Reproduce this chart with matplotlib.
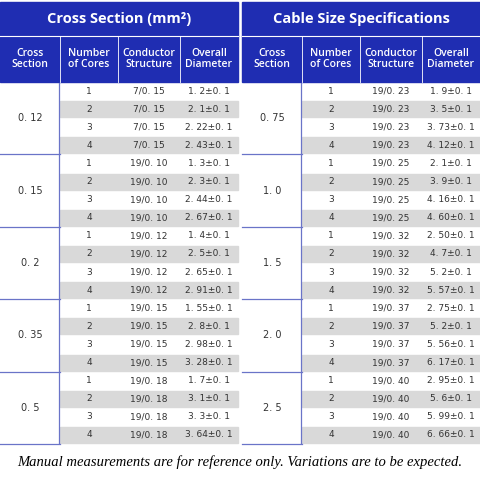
import matplotlib
matplotlib.use("Agg")
import matplotlib.pyplot as plt
from matplotlib.patches import Rectangle

left_sections = ["0. 12", "0. 15", "0. 2", "0. 35", "0. 5"]
left_structures = ["7/0. 15", "19/0. 10", "19/0. 12", "19/0. 15", "19/0. 18"]
left_diameters = [["1. 2", "2. 1", "2. 22", "2. 43"],
                  ["1. 3", "2. 3", "2. 44", "2. 67"],
                  ["1. 4", "2. 5", "2. 65", "2. 91"],
                  ["1. 55", "2. 8", "2. 98", "3. 28"],
                  ["1. 7", "3. 1", "3. 3", "3. 64"]]
right_sections = ["0. 75", "1. 0", "1. 5", "2. 0", "2. 5"]
right_structures = ["19/0. 23", "19/0. 25", "19/0. 32", "19/0. 37", "19/0. 40"]
right_diameters = [["1. 9", "3. 5", "3. 73", "4. 12"],
                   ["2. 1", "3. 9", "4. 16", "4. 60"],
                   ["2. 50", "4. 7", "5. 2", "5. 57"],
                   ["2. 75", "5. 2", "5. 56", "6. 17"],
                   ["2. 95", "5. 6", "5. 99", "6. 66"]]
cores = ["1", "2", "3", "4"]
titles = ["Cross Section (mm²)", "Cable Size Specifications"]
headers = ["Cross\nSection", "Number\nof Cores", "Conductor\nStructure", "Overall\nDiameter"]
footer = "Manual measurements are for reference only. Variations are to be expected."

BLUE = "#1f2db2"
GRAY = "#d9d9d9"
TXT = "#333333"

fig = plt.figure(figsize=(4.8, 4.8), dpi=100)
ax = fig.add_axes([0, 0, 1, 1])
ax.set_xlim(0, 480); ax.set_ylim(480, 0); ax.axis("off")

def draw_table(x0, w, cols, title, sections, structures, diameters):
    # title
    ax.add_patch(Rectangle((x0, 2), w, 34, color=BLUE))
    ax.text(x0 + w / 2, 19, title, color="white", fontsize=10.5, fontweight="bold",
            ha="center", va="center", family="Open Sans")
    ax.add_patch(Rectangle((x0, 36), w, 46, color=BLUE))
    ax.plot([x0, x0 + w], [36, 36], color="white", lw=0.8)
    for i, h in enumerate(headers):
        cx = (cols[i] + cols[i + 1]) / 2
        ax.text(cx, 59, h, color="white", fontsize=7.5, ha="center", va="center",
                linespacing=1.1, family="Open Sans", fontweight="semibold")
        if i > 0:
            ax.plot([cols[i], cols[i]], [36, 82], color="white", lw=0.6)
    y0, rh = 82, 18.1
    for g in range(5):
        gy = y0 + g * 4 * rh
        ax.text((cols[0] + cols[1]) / 2, gy + 2 * rh, sections[g], color=TXT,
                fontsize=7, ha="center", va="center")
        ax.plot([cols[1] - 1, cols[1] - 1], [gy + 1, gy + 4 * rh - 1], color="#6a74c8", lw=0.9)
        ax.plot([cols[0], cols[1]], [gy + 4 * rh, gy + 4 * rh], color="#6a74c8", lw=0.9)
        for r in range(4):
            ry = gy + r * rh
            if r % 2 == 1:
                ax.add_patch(Rectangle((cols[1], ry + 1), cols[4] - cols[1], rh - 2, color=GRAY))
            vals = [cores[r], structures[g], diameters[g][r] + "±0. 1"]
            for k, v in enumerate(vals):
                cx = (cols[k + 1] + cols[k + 2]) / 2
                ax.text(cx, ry + rh / 2, v, color=TXT, fontsize=6.5, ha="center", va="center")

draw_table(0, 238, [0, 60, 118, 180, 238], titles[0], left_sections, left_structures, left_diameters)
draw_table(242, 238, [242, 302, 360, 422, 480], titles[1], right_sections, right_structures, right_diameters)

ax.text(240, 462, footer, fontsize=10.5, style="italic", family="Liberation Serif",
        ha="center", va="center", color="black")

fig.savefig("out.png", dpi=100)
